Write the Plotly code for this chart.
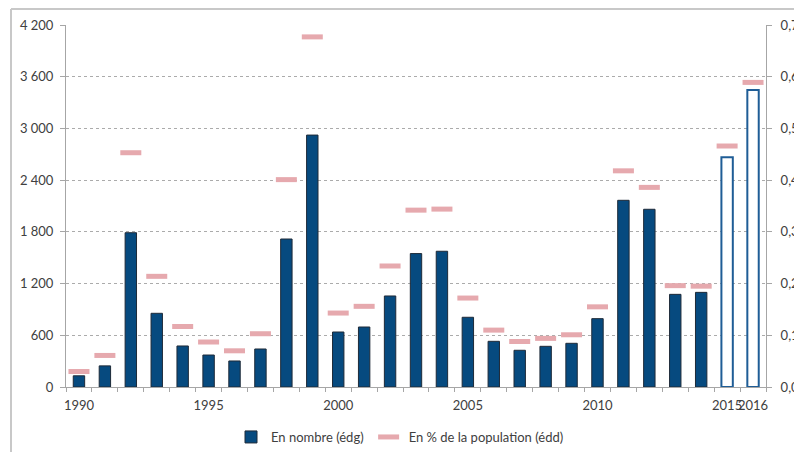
import plotly.graph_objects as go

years = [str(y) for y in range(1990, 2017)]
nombre = [130, 245, 1790, 855, 476, 371, 302, 441, 1717, 2923, 638, 696, 1056,
          1548, 1575, 809, 530, 426, 472, 507, 793, 2166, 2062, 1075, 1098, 2665, 3445]
pct = [0.030, 0.061, 0.453, 0.214, 0.117, 0.087, 0.070, 0.103, 0.401, 0.677, 0.143,
       0.156, 0.234, 0.342, 0.344, 0.172, 0.110, 0.088, 0.094, 0.101, 0.155, 0.418,
       0.386, 0.196, 0.195, 0.466, 0.589]
shown_labels = {"1990", "1995", "2000", "2005", "2010", "2015", "2016"}
tick_text = [y if y in shown_labels else "" for y in years]

BLUE = "#064A7F"
PINK = "#E6A9AE"
fills = [BLUE] * 25 + ["white", "white"]
outlines = ["#1E2A38"] * 25 + ["#1F5D96", "#1F5D96"]
owidth = [1] * 25 + [2, 2]

fig = go.Figure()
fig.add_trace(go.Bar(
    x=years, y=nombre, name="En nombre (édg)", width=0.44,
    marker=dict(color=fills, line=dict(color=outlines, width=owidth)),
))
fig.add_trace(go.Scatter(
    x=years, y=pct, name="En % de la population (édd)", yaxis="y2", mode="markers",
    marker=dict(symbol="line-ew", size=15, line=dict(color=PINK, width=5), color=PINK),
))

W, H = 794, 464
L, R, T, B = 66, 28, 25, 65
PH = 452 - T - B  # plot height observed in the rendered picture

def px(x):
    return (x - L) / (W - L - R)

def py(y):
    return (T + PH - y) / PH

FONT = "Lato, Carlito, sans-serif"
fig.update_layout(
    width=W, height=H,
    margin=dict(l=L, r=R, t=T, b=B + (H - 452), pad=0),
    paper_bgcolor="white", plot_bgcolor="white",
    separators=", ",
    font=dict(family=FONT, size=13, color="#404040"),
    showlegend=True,
    legend=dict(orientation="h", x=px(400), xanchor="center", y=py(437), yanchor="middle",
                font=dict(size=13, color="#404040"), itemwidth=30, bgcolor="rgba(0,0,0,0)"),
    xaxis=dict(type="category", tickmode="array", tickvals=years, ticktext=tick_text,
               range=[-0.5, 26.5], automargin=False, ticklabelstandoff=6,
               tickson="boundaries", ticks="outside", ticklen=4, tickcolor="#A6A6A6",
               showline=True, linecolor="#A6A6A6", linewidth=1, showgrid=False,
               tickangle=0, tickfont=dict(size=13, color="#404040")),
    yaxis=dict(range=[0, 4200], dtick=600, tickformat=",d", showline=True, automargin=False,
               linecolor="#A6A6A6", ticks="outside", ticklen=5, tickcolor="#A6A6A6",
               ticklabelstandoff=4,
               showgrid=True, gridcolor="#ABABAB", griddash="dot", gridwidth=1,
               zeroline=False, tickfont=dict(size=13, color="#404040")),
    yaxis2=dict(range=[0, 0.7], dtick=0.1, tickformat=".1f", overlaying="y", side="right",
                automargin=False, ticklabelstandoff=6,
                showline=True, linecolor="#A6A6A6", ticks="outside", ticklen=5,
                tickcolor="#A6A6A6", showgrid=False, zeroline=False,
                tickfont=dict(size=13, color="#404040")),
    shapes=[
        dict(type="line", xref="paper", yref="paper", x0=px(11), x1=px(800), y0=py(9), y1=py(9),
             line=dict(color="#C8C8C8", width=2)),
        dict(type="line", xref="paper", yref="paper", x0=px(11), x1=px(11), y0=py(9), y1=py(470),
             line=dict(color="#C8C8C8", width=2)),
    ],
)

fig.write_html(
    "out.html",
    config={"displayModeBar": False},
    post_script="document.body.style.margin='0';document.body.style.overflow='hidden';",
)
